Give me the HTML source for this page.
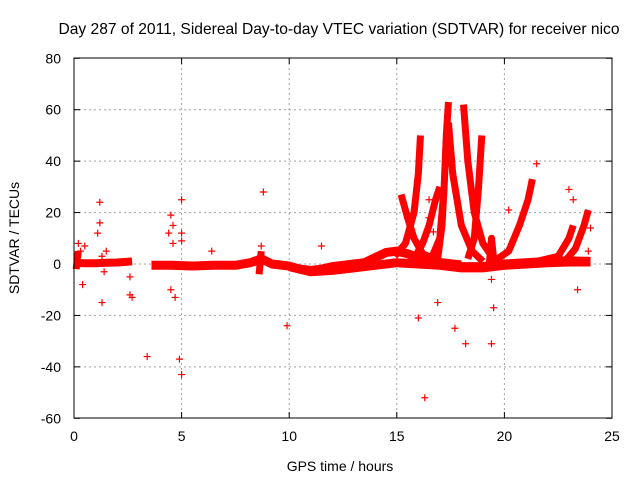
<!DOCTYPE html>
<html><head><meta charset="utf-8"><style>
body{margin:0;background:#fff}
svg{display:block;font-family:"Liberation Sans",sans-serif}
</style></head><body>
<svg id="chart" width="640" height="480" xmlns="http://www.w3.org/2000/svg">
<text x="339" y="34" font-size="15.6" text-anchor="middle">Day 287 of 2011, Sidereal Day-to-day VTEC variation (SDTVAR) for receiver nico</text>
<text transform="translate(19,238) rotate(-90)" font-size="14" text-anchor="middle">SDTVAR / TECUs</text>
<text x="340" y="471" font-size="14" text-anchor="middle">GPS time / hours</text>
<g id="grid"></g>
<g id="ticks"></g>
<g id="series"></g>
<rect x="74" y="58" width="538" height="360" fill="none" stroke="#000" stroke-width="1"/>
</svg>
<script>
const xTicks=[0,5,10,15,20,25];
const yTicks=[80,60,40,20,0,-20,-40,-60];
const baseT=[0,0.5,1,1.5,2,2.7];
const baseV=[0.5,0.3,0.3,0.5,0.6,1];
const base2T=[3.6,4.5,5.5,6.5,7.5,8.2,8.7,9.2,10,10.5,11,11.5,12,12.5,13,13.5,14,14.5,15,15.5,16,17,18,19,20,21,22,23,24];
const base2V=[-0.5,-0.5,-0.8,-0.5,-0.5,0.5,2,0,-0.8,-2,-2.5,-2,-1,-0.5,0,0.5,2.5,4.5,5,4,2.5,0.5,-1,-1,0,0.5,1,1.2,1];
const lowT=[10,11,12,13,14,15,16,17,18,19,20,21,22,23,24];
const lowV=[-1,-3,-2.5,-1.5,-0.5,0.5,0,-0.5,-1.5,-1.5,-0.5,0,0.5,0.8,0.8];
const arcs=[
 [[0.1,-2],[0.2,5]],
 [[8.6,-4],[8.7,5]],
 [[14.9,3],[15.4,8],[15.8,20],[16.0,35],[16.1,50]],
 [[15.2,27],[15.5,18],[15.8,10],[16.2,4],[17,1],[18,0]],
 [[15.8,2],[16.2,8],[16.5,15],[16.8,25],[17.0,30]],
 [[16.6,2],[17.0,10],[17.2,30],[17.3,50],[17.4,63]],
 [[16.9,2],[17.1,15],[17.2,30]],
 [[17.4,55],[17.6,35],[18.0,15],[18.5,5],[19.0,1]],
 [[18.1,62],[18.3,40],[18.6,20],[19.0,8],[19.5,2]],
 [[18.3,2],[18.6,10],[18.8,30],[18.95,50]],
 [[19.3,0],[19.4,10],[19.5,2]],
 [[19.5,1],[20.2,5],[20.7,15],[21.1,25],[21.3,33]],
 [[21.5,1],[22.5,3],[23.0,10],[23.2,15]],
 [[22.8,1],[23.3,6],[23.7,15],[23.9,21]]
];
const outT=[0.2,0.3,0.5,0.4,1.2,1.2,1.1,1.3,1.3,1.5,1.4,2.6,2.7,2.6,3.4,4.5,4.4,4.6,4.6,4.5,4.7,4.9,5.0,5.0,5.0,5.0,6.4,8.8,9.9,8.7,11.5,16.0,16.3,16.5,16.5,16.9,17.7,18.2,19.4,19.5,19.4,20.2,21.5,23.0,23.2,23.4,24.0,23.9,16.7];
const outV=[8,5,7,-8,24,16,12,3,-15,5,-3,-12,-13,-5,-36,19,12,15,8,-10,-13,-37,-43,25,12,9,5,28,-24,7,7,-21,-52,18,25,-15,-25,-31,-31,-17,-6,21,39,29,25,-10,14,5,12.5];
const X=t=>74+t*(538/25);
const Y=v=>264-v*(360/140);
const NS="http://www.w3.org/2000/svg";
function mk(tag,attrs,parent){const e=document.createElementNS(NS,tag);for(const k in attrs)e.setAttribute(k,attrs[k]);parent.appendChild(e);return e;}
const grid=document.getElementById('grid'),ticks=document.getElementById('ticks'),series=document.getElementById('series');
xTicks.forEach(t=>{
 const x=X(t);
 if(t>0&&t<25){const g=mk('line',{x1:x,x2:x,y1:58,y2:418,stroke:'#a0a0a0','stroke-dasharray':'2,3'},grid);
 
 }
 mk('line',{x1:x,x2:x,y1:418,y2:412,stroke:'#000'},ticks);
 mk('line',{x1:x,x2:x,y1:58,y2:64,stroke:'#000'},ticks);
 const l=mk('text',{x:x,y:441,'font-size':14,'text-anchor':'middle'},ticks);l.textContent=t;
 
 
});
yTicks.forEach(v=>{
 const y=Y(v);
 if(v<80&&v>-60){const g=mk('line',{x1:74,x2:612,y1:y,y2:y,stroke:'#a0a0a0','stroke-dasharray':'2,3'},grid);
 
 }
 mk('line',{x1:74,x2:80,y1:y,y2:y,stroke:'#000'},ticks);
 mk('line',{x1:612,x2:606,y1:y,y2:y,stroke:'#000'},ticks);
 const l=mk('text',{x:61,y:y+5,'font-size':14,'text-anchor':'end'},ticks);l.textContent=v;
 
 
});
function poly(ts,vs,w){
 const p=mk('polyline',{points:ts.map((t,i)=>X(t)+','+Y(vs[i])).join(' '),fill:'none',stroke:'#ff0000','stroke-width':w,'stroke-linejoin':'round','stroke-linecap':'butt'},series);
 
 
}
poly(baseT,baseV,8);
poly(base2T,base2V,9);
poly(lowT,lowV,9);
arcs.forEach(a=>poly(a.map(p=>p[0]),a.map(p=>p[1]),7));
outT.forEach((t,i)=>{
 const x=X(t),y=Y(outV[i]);
 const c=mk('path',{d:`M${x-3.5},${y}h7M${x},${y-3.5}v7`,stroke:'#ff0000','stroke-width':1.2},series);
 
 
});
</script>
</body></html>
